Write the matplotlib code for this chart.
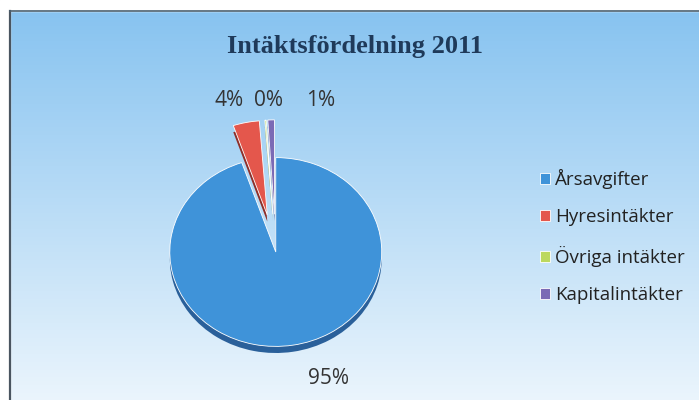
import numpy as np
import matplotlib.pyplot as plt
from matplotlib.patches import Rectangle

categories = ['Årsavgifter', 'Hyresintäkter', 'Övriga intäkter', 'Kapitalintäkter']
values = [94.8, 4.0, 0.2, 1.0]
colors = ['#3f93d9', '#e4574c', '#bcd85e', '#7b6ab5']
shade = ['#2a609a', '#8e2f2a', '#7f9a3a', '#4a3f7a']
explode = [0, 0.4, 0.4, 0.4]

fig = plt.figure(figsize=(6.99, 4.0), dpi=100)

# background gradient for chart area
bg = fig.add_axes([0, 0, 1, 1])
grad = np.linspace(0, 1, 256).reshape(-1, 1)
top = np.array([0.52, 0.76, 0.94])
bot = np.array([0.92, 0.96, 0.99])
img = top + (bot - top) * grad[..., None]
bg.imshow(img, aspect='auto', extent=[0, 1, 0, 1], origin='upper')
bg.set_xlim(0, 1)
bg.set_ylim(0, 1)
bg.axis('off')
# white margin + frame
bg.add_patch(Rectangle((0, 0.972), 1, 0.028, color='white', zorder=3))
bg.add_patch(Rectangle((0, 0), 0.0143, 1, color='white', zorder=3))
bg.plot([0.0143, 0.0143], [0, 0.972], color='#4a5560', lw=1.6, zorder=4)
bg.plot([0.0143, 1], [0.972, 0.972], color='#4a6070', lw=1.2, zorder=4)

fig.text(0.508, 0.885, 'Intäktsfördelning 2011', ha='center', va='center',
         fontsize=19, fontweight='bold', family='Liberation Serif', color='#1f3a5a')

# pie (squashed for 3D look)
ax = fig.add_axes([0.205, 0.075, 0.379, 0.59])
ax.pie(values, colors=shade, explode=explode, startangle=90, counterclock=False,
       center=(0, -0.07), wedgeprops=dict(linewidth=0))
wedges, _ = ax.pie(values, colors=colors, explode=explode, startangle=90,
                   counterclock=False, wedgeprops=dict(edgecolor='white', linewidth=0.6))
ax.set_aspect('auto')
ax.set_xlim(-1.25, 1.25)
ax.set_ylim(-1.25, 1.25)

pct = ['%d%%' % round(v) for v in values]
lab_font = dict(fontsize=15, family='Open Sans', color='#333333', ha='center', va='center')
fig.text(0.470, 0.055, pct[0], **lab_font)
fig.text(0.328, 0.750, pct[1], **lab_font)
fig.text(0.384, 0.750, pct[2], **lab_font)
fig.text(0.459, 0.750, pct[3], **lab_font)

leg = fig.legend(wedges, categories, loc='upper left', bbox_to_anchor=(0.748, 0.62),
                 frameon=False, handlelength=0.55, handleheight=0.55, handletextpad=0.25,
                 labelspacing=1.04, prop=dict(family='Open Sans', size=13.5))
for t in leg.get_texts():
    t.set_color('#222222')

plt.savefig('out.png', dpi=100)
